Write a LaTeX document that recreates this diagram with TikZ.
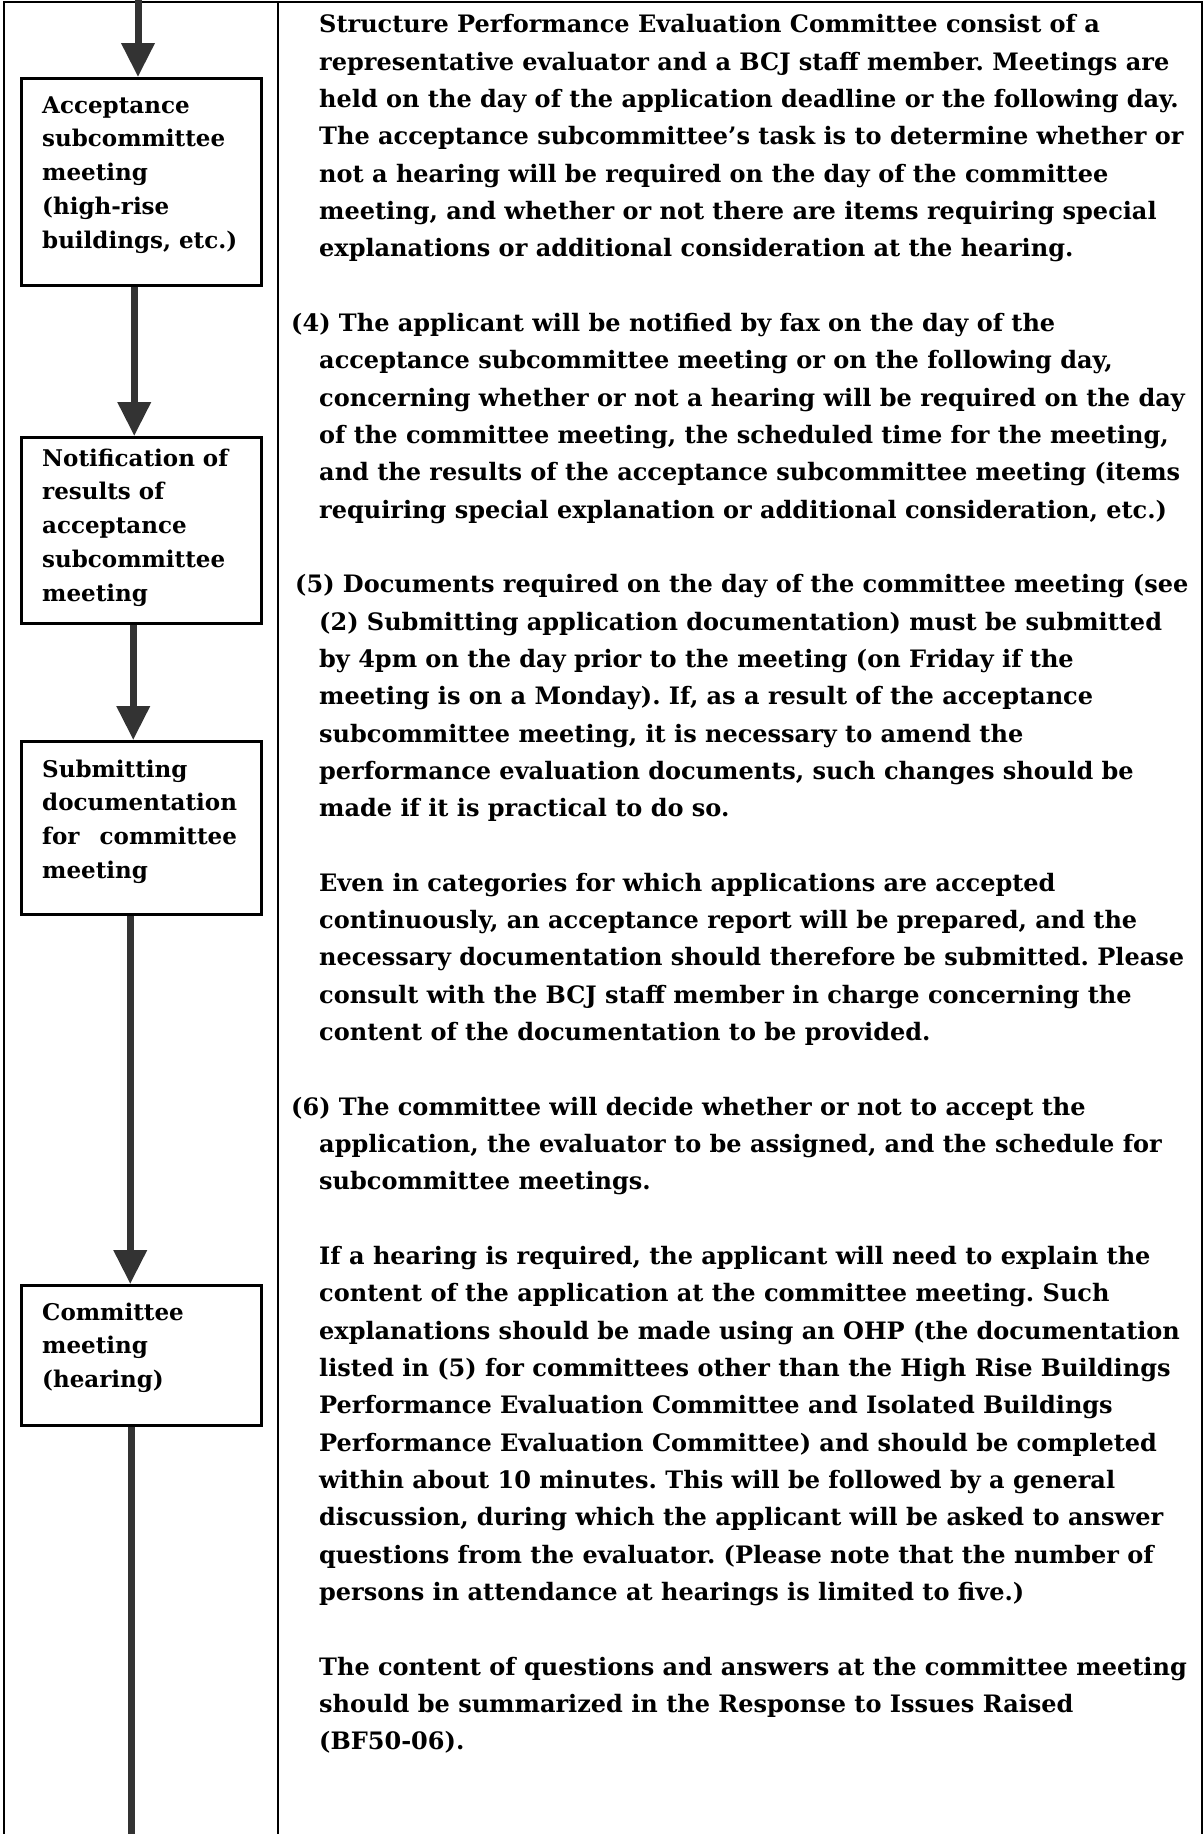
\documentclass[tikz,border=0pt]{standalone}
\usepackage{fontspec}
\usepackage{calc}
\setmainfont{DejaVu Serif}
\usetikzlibrary{arrows.meta}
\definecolor{arrowgray}{HTML}{333333}
\newcommand{\ind}{\hspace*{28pt}}
\frenchspacing
\begin{document}
\begin{tikzpicture}[x=1pt,y=-1pt,
  txt/.style={anchor=base west, inner sep=0pt, align=left,
    font=\bfseries\fontsize{24}{37.32}\selectfont\frenchspacing},
  boxtxt/.style={anchor=base west, inner sep=0pt, align=left,
    font=\bfseries\fontsize{23}{33.9}\selectfont\frenchspacing},
  stepbox/.style={draw=black, line width=2.5pt, inner sep=0pt, anchor=north west, minimum width=240pt},
  flow/.style={draw=arrowgray, line width=7pt, -{Triangle[width=32pt,length=34pt]}},
  shaft/.style={draw=arrowgray, line width=7pt},
  frame/.style={draw=black, line width=2.5pt}
]
\useasboundingbox (0,0) rectangle (1204,1834);
% frame
\draw[frame] (4,1834) -- (4,2) -- (1202,2) -- (1202,1834);
\draw[draw=black, line width=2pt] (278,2) -- (278,1834);

% boxes
\node[stepbox, minimum height=207pt] (b1) at (20,77) {};
\node[stepbox, minimum height=186pt] (b2) at (20,436) {};
\node[stepbox, minimum height=173pt] (b3) at (20,740) {};
\node[stepbox, minimum height=140pt] (b4) at (20,1284) {};

% box texts (anchored at the baseline of their last line)
\node[boxtxt] (t1) at (42,248.6) {Acceptance\\subcommittee\\meeting\\(high-rise\\buildings, etc.)};
\node[boxtxt] (t2) at (42,601.6) {Notification of\\results of\\acceptance\\subcommittee\\meeting};
\node[boxtxt] (t3) at (42,878.7) {Submitting\\documentation\\\makebox[\widthof{documentation}][s]{for\hfill committee}\\meeting};
\node[boxtxt] (t4) at (42,1387.8) {Committee\\meeting\\(hearing)};

% connectors
\coordinate (top) at (138,0);
\coordinate (bot) at (131,1834);
\draw[flow] (top) -- (top |- b1.north);
\draw[flow] ([xshift=-7pt]b1.south) -- ([xshift=-7pt]b2.north);
\draw[flow] ([xshift=-8pt]b2.south) -- ([xshift=-8pt]b3.north);
\draw[flow] ([xshift=-11pt]b3.south) -- ([xshift=-11pt]b4.north);
\draw[shaft] (bot |- b4.south) -- (bot);

% right column text (anchored at the baseline of their last line)
\node[txt] (p0) at (319,256.9) {Structure Performance Evaluation Committee consist of a\\
representative evaluator and a BCJ staff member. Meetings are\\
held on the day of the application deadline or the following day.\\
The acceptance subcommittee’s task is to determine whether or\\
not a hearing will be required on the day of the committee\\
meeting, and whether or not there are items requiring special\\
explanations or additional consideration at the hearing.};

\node[txt] (p4) at (291,518.2) {(4) The applicant will be notified by fax on the day of the\\
\ind acceptance subcommittee meeting or on the following day,\\
\ind concerning whether or not a hearing will be required on the day\\
\ind of the committee meeting, the scheduled time for the meeting,\\
\ind and the results of the acceptance subcommittee meeting (items\\
\ind requiring special explanation or additional consideration, etc.)};

\node[txt] (p5) at (295,816.7) {(5) Documents required on the day of the committee meeting (see\\
\hspace*{24pt}(2) Submitting application documentation) must be submitted\\
\hspace*{24pt}by 4pm on the day prior to the meeting (on Friday if the\\
\hspace*{24pt}meeting is on a Monday). If, as a result of the acceptance\\
\hspace*{24pt}subcommittee meeting, it is necessary to amend the\\
\hspace*{24pt}performance evaluation documents, such changes should be\\
\hspace*{24pt}made if it is practical to do so.};

\node[txt] (pe) at (319,1040.6) {Even in categories for which applications are accepted\\
continuously, an acceptance report will be prepared, and the\\
necessary documentation should therefore be submitted. Please\\
consult with the BCJ staff member in charge concerning the\\
content of the documentation to be provided.};

\node[txt] (p6) at (291,1189.9) {(6) The committee will decide whether or not to accept the\\
\ind application, the evaluator to be assigned, and the schedule for\\
\ind subcommittee meetings.};

\node[txt] (pif) at (319,1600.4) {If a hearing is required, the applicant will need to explain the\\
content of the application at the committee meeting. Such\\
explanations should be made using an OHP (the documentation\\
listed in (5) for committees other than the High Rise Buildings\\
Performance Evaluation Committee and Isolated Buildings\\
Performance Evaluation Committee) and should be completed\\
within about 10 minutes. This will be followed by a general\\
discussion, during which the applicant will be asked to answer\\
questions from the evaluator. (Please note that the number of\\
persons in attendance at hearings is limited to five.)};

\node[txt] (pthe) at (319,1749.7) {The content of questions and answers at the committee meeting\\
should be summarized in the Response to Issues Raised\\
(BF50-06).};
\end{tikzpicture}
\end{document}
